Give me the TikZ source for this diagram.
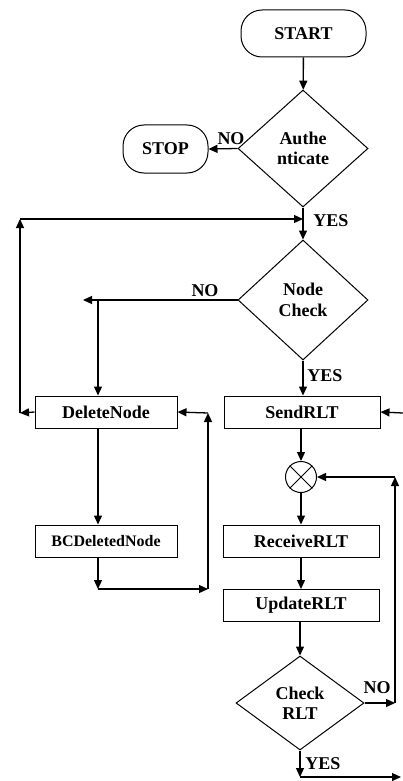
\documentclass[tikz,border=0pt]{standalone}
\usepackage{fontspec}
\setmainfont{Liberation Serif}
\usetikzlibrary{shapes.geometric,arrows.meta}
\begin{document}
\begin{tikzpicture}[x=1pt,y=-1pt,
  every node/.style={font=\fontsize{18}{20.5}\selectfont\bfseries},
  term/.style={draw,line width=1pt,rectangle,rounded corners=21pt,inner sep=0pt},
  proc/.style={draw,line width=1pt,rectangle,inner sep=0pt,minimum height=32pt},
  dec/.style={draw,line width=1pt,diamond,inner sep=0pt,align=center},
  lbl/.style={inner sep=0pt},
  arr/.style={line width=1.3pt,-{Triangle[length=9pt,width=8pt]}},
  ln/.style={line width=1.3pt}
]
\useasboundingbox (0,0) rectangle (403,781);

\node[term,minimum width=125pt,minimum height=47pt] (start) at (303.5,33.5) {START};
\node[dec,minimum width=130pt,minimum height=117pt] (auth) at (303,148.5) {Authe\\nticate};
\node[term,minimum width=85pt,minimum height=48pt] (stop) at (165.5,149) {STOP};
\node[dec,minimum width=130pt,minimum height=120pt] (ncheck) at (303,300) {Node\\Check};
\node[proc,minimum width=142pt] (del) at (106,412) {DeleteNode};
\node[proc,minimum width=142pt,font=\fontsize{16}{18}\selectfont\bfseries] (bcdel) at (106,541) {BCDeletedNode};
\node[proc,minimum width=156pt] (send) at (302,412) {SendRLT};
\node[draw,line width=1pt,circle,minimum size=31pt,inner sep=0pt] (sum) at (301,477) {};
\draw[line width=1pt] (sum.45) -- (sum.225) (sum.135) -- (sum.315);
\node[proc,minimum width=156pt] (recv) at (301,541) {ReceiveRLT};
\node[proc,minimum width=156pt] (upd) at (301,605.5) {UpdateRLT};
\node[dec,minimum width=128pt,minimum height=94pt] (crlt) at (300,703) {Check\\RLT};

% labels
\node[lbl] (l1) at (231,139) {NO};
\node[lbl] (l2) at (331,221) {YES};
\node[lbl] (l3) at (205,291) {NO};
\node[lbl] (l4) at (325,376) {YES};
\node[lbl] (l5) at (377,688) {NO};
\node[lbl] (l6) at (323,764) {YES};

% coordinates
\coordinate (xl) at (98,0);
\coordinate (xr) at (301,0);
\coordinate (lp) at (20,219);
\coordinate (lpb) at (20,413);
\coordinate (jn) at (303,219);
\coordinate (nc) at (98,300);
\coordinate (nce) at (83,300);
\coordinate (bc1) at (98,589);
\coordinate (bc2) at (208,589);
\coordinate (bc3) at (208,413);
\coordinate (edge) at (403,413);
\coordinate (r1) at (395,703);
\coordinate (r2) at (395,477);
\coordinate (b1) at (300,777);
\coordinate (b2) at (401,777);

% connectors
\draw[arr] (start) -- (auth);
\draw[arr] (auth.west) -- (stop.east);
\draw[arr] (auth.south) -- (ncheck.north);
\draw[arr] (del.west) -- (lpb);
\draw[arr] (lpb) -- (lp);
\draw[arr] (lp) -- (jn);
\draw[arr] (ncheck.west) -- (nce);
\draw[arr] (nc) -- (del.north -| xl);
\draw[arr] (ncheck.south) -- (send.north -| ncheck.south);
\draw[arr] (del.south -| xl) -- (bcdel.north -| xl);
\draw[arr] (bcdel.south -| xl) -- (bc1);
\draw[arr] (bc1) -- (bc2);
\draw[arr] (bc2) -- (bc3);
\draw[arr] (bc3) -- (del.east);
\draw[arr] (edge) -- (send.east);
\draw[arr] (send.south -| xr) -- (sum.north);
\draw[arr] (sum.south) -- (recv.north -| sum.south);
\draw[arr] (recv.south -| xr) -- (upd.north -| xr);
\draw[arr] (upd.south -| crlt.north) -- (crlt.north);
\draw[arr] (crlt.east) -- (r1);
\draw[arr] (r1) -- (r2);
\draw[arr] (r2) -- (sum.east);
\draw[arr] (crlt.south) -- (b1);
\draw[arr] (b1) -- (b2);
\end{tikzpicture}
\end{document}
